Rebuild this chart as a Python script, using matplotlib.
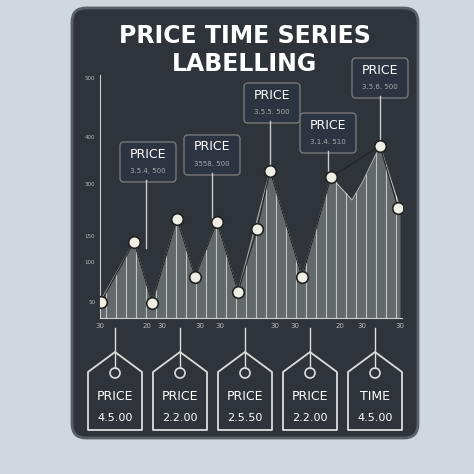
import numpy as np
import matplotlib.pyplot as plt
from matplotlib.patches import FancyBboxPatch, Polygon, Circle

# price points (x in chart units, y in chart units)
xs = [1, 34, 52, 77, 95, 117, 138, 157, 170, 202, 231, 280, 298]
ys = [16, 76, 15, 99, 41, 96, 26, 89, 147, 41, 141, 172, 110]
# outline of the shaded area (slightly different from the markers)
area_x = [0, 34, 52, 77, 95, 117, 138, 170, 202, 231, 252, 262, 280, 300]
area_y = [16, 76, 15, 99, 41, 96, 26, 147, 41, 141, 118, 135, 172, 110]

ytick_vals = [16, 56, 82, 134, 181, 240]
ytick_labels = ["50", "100", "150", "300", "400", "500"]
xtick_vals = [0, 47, 62, 100, 120, 175, 195, 240, 262, 300]
xtick_labels = ["30", "20", "30", "30", "30", "30", "30", "20", "30", "30"]

callout_labels = ["3.5.4, 500", "3558. 500", "3.5.5. 500", "3.1.4. 510", "3.5.6. 500"]
callout_pos = [(148, 162), (212, 155), (272, 103), (328, 133), (380, 78)]
callout_pts = [(146, 248), (212, 225), (270, 171), (328, 180), (380, 140)]

tag_top = ["PRICE", "PRICE", "PRICE", "PRICE", "TIME"]
tag_val = ["4.5.00", "2.2.00", "2.5.50", "2.2.00", "4.5.00"]
tag_x = [115, 180, 245, 310, 375]

W = H = 474
fig = plt.figure(figsize=(4.74, 4.74), dpi=100, facecolor="#cfd8dc")

def fx(px):
    return px / W

def fy(py):
    return 1 - py / H

bg = fig.add_axes([0, 0, 1, 1])
bg.set_xlim(0, W)
bg.set_ylim(H, 0)
bg.axis("off")
bg.add_patch(FancyBboxPatch((72, 8), 346, 430, boxstyle="round,pad=0,rounding_size=14",
                            fc="#2e3439", ec="#5a6066", lw=2))
bg.text(245, 36, "PRICE TIME SERIES", color="white", ha="center", va="center",
        fontsize=17, fontweight="bold")
bg.text(245, 64, "LABELLING", color="white", ha="center", va="center",
        fontsize=17, fontweight="bold")

ax = fig.add_axes([fx(100), fy(318), fx(302), 243 / H])
ax.set_xlim(0, 302)
ax.set_ylim(0, 243)
ax.set_facecolor("none")
for s in ["top", "right"]:
    ax.spines[s].set_visible(False)
ax.spines["left"].set_color("#cccccc")
ax.spines["bottom"].set_color("#cccccc")
ax.fill_between(area_x, area_y, color="#c8ccc8", alpha=0.35, lw=0)
ax.plot(area_x, area_y, color="#dddddd", lw=0.8, alpha=0.7)
for vx in np.arange(6, 300, 10):
    ax.plot([vx, vx], [0, np.interp(vx, area_x, area_y)], color="white", lw=0.8, alpha=0.6)
ax.plot(xs, ys, color="#222222", lw=0.8)
ax.scatter(xs, ys, s=70, color="#f0efe6", edgecolor="#222222", lw=1.2, zorder=5)
ax.set_yticks(ytick_vals)
ax.set_yticklabels(ytick_labels, fontsize=4, color="#bbbbbb")
ax.set_xticks(xtick_vals)
ax.set_xticklabels(xtick_labels, fontsize=5, color="#bbbbbb")
ax.tick_params(length=0)

# callouts
for (cx, cy), (px, py), lab in zip(callout_pos, callout_pts, callout_labels):
    bg.plot([px, px], [cy + 18, py], color="#cccccc", lw=1)
    bg.add_patch(FancyBboxPatch((cx - 28, cy - 20), 56, 40, boxstyle="round,pad=0,rounding_size=4",
                                fc="#2b3440", ec="#777777", lw=1))
    bg.text(cx, cy - 8, "PRICE", color="white", ha="center", va="center", fontsize=9)
    bg.text(cx, cy + 9, lab, color="#aaaaaa", ha="center", va="center", fontsize=5)

# price tags
for tx, t1, t2 in zip(tag_x, tag_top, tag_val):
    bg.plot([tx, tx], [328, 368], color="#dddddd", lw=1)
    poly = [(tx, 352), (tx + 27, 372), (tx + 27, 430), (tx - 27, 430), (tx - 27, 372)]
    bg.add_patch(Polygon(poly, closed=True, fc="#2e3439", ec="#dddddd", lw=1.3, joinstyle="round"))
    bg.add_patch(Circle((tx, 373), 5, fc="#2e3439", ec="#dddddd", lw=1.2))
    bg.text(tx, 397, t1, color="white", ha="center", va="center", fontsize=9)
    bg.text(tx, 418, t2, color="white", ha="center", va="center", fontsize=8)

fig.savefig("out.png", dpi=100, facecolor=fig.get_facecolor())
